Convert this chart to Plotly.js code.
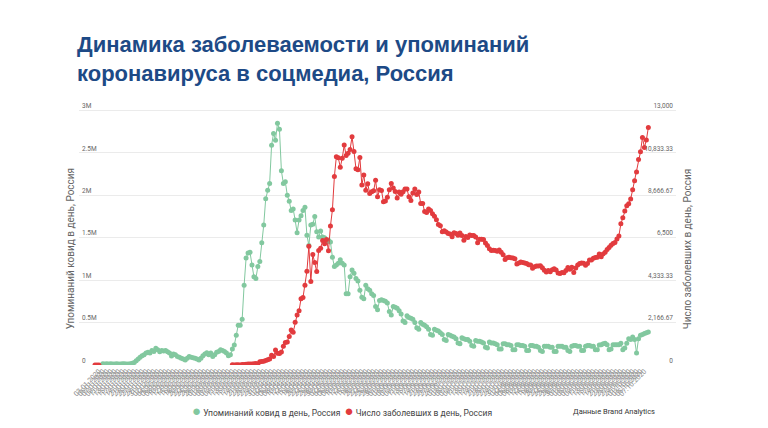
<!DOCTYPE html>
<html><head><meta charset="utf-8">
<script src="https://cdn.plot.ly/plotly-3.0.1.min.js"></script>
<style>html,body{margin:0;padding:0;background:#fff}#chart{width:768px;height:428px}</style>
</head><body><div id="chart"></div>
<script>
// Categories: daily dates 01.01.2020 – 09.10.2020
const startDate = Date.UTC(2020, 0, 1);
const dayCount = 283;
const dates = [];
for (let i = 0; i < dayCount; i++) {
  const d = new Date(startDate + i * 86400000);
  const dd = String(d.getUTCDate()).padStart(2, '0');
  const mm = String(d.getUTCMonth() + 1).padStart(2, '0');
  dates.push(dd + '.' + mm + '.' + d.getUTCFullYear());
}

// Mentions of covid per day, millions (left axis)
const mentionsJan = [null,null,null,null,0.015,0.012,0.014,0.013,0.015,0.012,0.011,0.014,0.013,0.012,0.014,0.015,0.013,0.012,0.014,0.02,0.03,0.05,0.07,0.09,0.11,0.12,0.14,0.15,0.14,0.17,0.16];
const mentionsFeb = [0.196,0.18,0.155,0.17,0.165,0.17,0.155,0.14,0.105,0.13,0.12,0.1,0.09,0.08,0.07,0.06,0.08,0.1,0.09,0.085,0.08,0.07,0.06,0.08,0.11,0.13,0.145,0.12,0.14];
const mentionsMar = [0.1,0.12,0.15,0.16,0.18,0.17,0.16,0.14,0.11,0.12,0.19,0.235,0.35,0.47,0.47,0.54,0.94,1.26,1.32,1.33,1.18,1.04,1.02,1.16,1.22,1.44,1.65,1.96,2.06,2.14,2.59];
const mentionsApr = [2.73,2.65,2.85,2.78,2.29,2.14,2.16,2.0,1.93,1.82,1.84,1.71,1.56,1.71,1.76,1.82,1.86,1.53,1.41,1.65,1.66,1.75,1.57,1.51,1.58,1.51,1.5,1.45,1.47,1.45];
const mentionsMay = [1.27,1.16,1.18,1.2,1.24,1.2,1.18,0.84,0.84,1.04,1.12,1.08,1.02,0.99,0.88,0.8,0.78,0.94,0.9,0.88,0.84,0.82,0.69,0.65,0.76,0.77,0.76,0.75,0.73,0.63,0.59];
const mentionsJun = [0.69,0.68,0.67,0.64,0.6,0.52,0.5,0.58,0.56,0.55,0.54,0.5,0.44,0.42,0.5,0.48,0.47,0.45,0.42,0.36,0.35,0.42,0.41,0.4,0.38,0.36,0.3,0.29,0.36,0.35];
const mentionsJul = [0.34,0.33,0.31,0.26,0.25,0.32,0.31,0.3,0.3,0.28,0.23,0.22,0.29,0.28,0.28,0.27,0.26,0.21,0.2,0.27,0.26,0.26,0.25,0.24,0.19,0.19,0.25,0.25,0.24,0.24,0.23];
const mentionsAug = [0.18,0.18,0.24,0.24,0.23,0.23,0.22,0.17,0.17,0.23,0.23,0.22,0.22,0.21,0.17,0.16,0.22,0.22,0.22,0.21,0.21,0.16,0.16,0.22,0.22,0.22,0.21,0.21,0.17,0.16,0.22];
const mentionsSep = [0.23,0.23,0.22,0.22,0.17,0.17,0.22,0.23,0.23,0.22,0.22,0.18,0.18,0.235,0.24,0.25,0.255,0.24,0.18,0.19,0.24,0.24,0.24,0.24,0.255,0.18,0.2,0.255,0.31,0.3];
const mentionsOct = [0.33,0.3,0.14,0.31,0.35,0.36,0.37,0.38,0.39];

// New cases per day (right axis)
const casesJan = [0,0,0,null,null,null,null,null,null,null,null,null,null,null,null,null,null,null,null,null,null,null,null,null,null,null,null,null,null,null,null];
const casesFeb = [null,null,null,null,null,null,null,null,null,null,null,null,null,null,null,null,null,null,null,null,null,null,null,null,null,null,null,null,null];
const casesMar = [null,null,null,null,null,null,null,null,null,null,8,6,17,14,4,30,21,33,52,54,53,61,71,57,163,182,196,228,270,302,500];
const casesApr = [440,771,601,582,658,954,1154,1175,1459,1786,1667,2186,2558,2774,3388,3448,4070,4785,6060,4268,5642,5236,4774,5849,5966,6361,6198,6411,5841,7099];
const casesMay = [7933,9623,10633,10581,10102,10559,11231,10699,10817,11012,11656,10899,10028,9974,10598,9200,9709,8926,9263,8764,8849,8894,9434,8599,8946,8915,8338,8371,8572,8952,9268];
const casesJun = [9035,8863,8536,8831,8726,8855,8984,8985,8595,8404,8779,8987,8706,8835,8246,8248,7843,7790,7972,7889,7728,7600,7425,7176,7113,6800,6852,6791,6719,6693];
const casesJul = [6556,6760,6718,6632,6736,6611,6368,6562,6509,6635,6611,6615,6537,6248,6422,6428,6406,6234,6109,5940,5842,5862,5848,5811,5871,5765,5635,5395,5475,5509,5482];
const casesAug = [5462,5427,5159,5204,5267,5241,5212,5189,5118,5102,4945,5012,5057,5061,5065,4969,4839,4748,4828,4767,4870,4921,4852,4696,4676,4729,4711,4829,4980,4897,4993];
const casesSep = [4729,4952,5110,5185,5205,5195,5099,5185,5363,5363,5449,5488,5509,5670,5529,5670,5762,5905,6000,6120,6200,6260,6431,6595,7212,7523,7867,8135,8232,8481];
const casesOct = [8945,9412,9859,10499,10888,11615,11115,11493,12126];

const leftTicks = [0, 0.5, 1, 1.5, 2, 2.5, 3];
const leftTickText = ['0', '0.5M', '1M', '1.5M', '2M', '2.5M', '3M'];
const rightTicks = [0, 2166.67, 4333.33, 6500, 8666.67, 10833.33, 13000];
const rightTickText = ['0', '2,166.67', '4,333.33', '6,500', '8,666.67', '10,833.33', '13,000'];

const seriesNames = ['Упоминаний ковид в день, Россия', 'Число заболевших в день, Россия'];
const mentions = [].concat(mentionsJan, mentionsFeb, mentionsMar, mentionsApr, mentionsMay, mentionsJun, mentionsJul, mentionsAug, mentionsSep, mentionsOct);
const cases = [].concat(casesJan, casesFeb, casesMar, casesApr, casesMay, casesJun, casesJul, casesAug, casesSep, casesOct);

const greenColor = '#82c89f';
const redColor = '#e23b3e';

const tickVals = dates.filter((d, i) => i >= 2 && i % 2 === 0);

const traces = [
  { type: 'scatter', mode: 'lines+markers', name: seriesNames[0], x: dates, y: mentions, yaxis: 'y',
    line: { color: greenColor, width: 1 }, marker: { color: greenColor, size: 5 }, connectgaps: false },
  { type: 'scatter', mode: 'lines+markers', name: seriesNames[1], x: dates, y: cases, yaxis: 'y2',
    line: { color: redColor, width: 1 }, marker: { color: redColor, size: 5 }, connectgaps: false }
];

// plot area: 0 at y=365, 3M at y=110 (85 px per 1M); top padded so the "3M" label fits inside
const W = 768, H = 428, L = 79, R = 92, T = 101.5, B = 63;
const pw = W - L - R, ph = H - T - B;
const px = (x) => (x - L) / pw;
const py = (y) => (H - B - y) / ph;

const layout = {
  width: W, height: H,
  margin: { l: L, r: R, t: T, b: B, pad: 0 },
  paper_bgcolor: '#ffffff', plot_bgcolor: '#ffffff',
  showlegend: false,
  font: { family: 'Roboto, "Open Sans", sans-serif', color: '#555' },
  title: {
    text: 'Динамика заболеваемости и упоминаний<br>коронавируса в соцмедиа, Россия',
    x: 77 / W, xref: 'container', xanchor: 'left',
    y: 1 - 52 / H, yref: 'container', yanchor: 'top',
    font: { family: '"Liberation Sans", Arial, sans-serif', size: 22, color: '#1d4a86', weight: 700 }
  },
  xaxis: {
    type: 'category', range: [-8.15, 296.1], tickmode: 'array', tickvals: tickVals, ticktext: tickVals,
    tickangle: -45, tickfont: { size: 7, color: '#8a8a8a' }, showgrid: false, zeroline: false, showline: false,
    ticks: '', fixedrange: true
  },
  yaxis: {
    range: [0, 3.1], tickmode: 'array', tickvals: leftTicks, ticktext: leftTickText,
    ticklabelposition: 'inside top', tickfont: { size: 6.5, color: '#666' },
    gridcolor: '#ebebeb', gridwidth: 1, zeroline: false, showline: false, ticks: '', fixedrange: true
  },
  yaxis2: {
    overlaying: 'y', side: 'right', range: [0, 13433.33], tickmode: 'array', tickvals: rightTicks, ticktext: rightTickText,
    ticklabelposition: 'inside top', tickfont: { size: 6.5, color: '#666' },
    showgrid: false, zeroline: false, showline: false, ticks: '', fixedrange: true
  },
  annotations: [
    { text: seriesNames[0], xref: 'paper', yref: 'paper', x: px(70), y: py(249), textangle: -90,
      xanchor: 'center', yanchor: 'middle', showarrow: false, font: { size: 10, color: '#666' } },
    { text: seriesNames[1], xref: 'paper', yref: 'paper', x: px(687), y: py(249), textangle: -90,
      xanchor: 'center', yanchor: 'middle', showarrow: false, font: { size: 10, color: '#666' } },
    { text: '<span style="color:' + greenColor + ';font-size:15px">●</span> ' + seriesNames[0] + '  <span style="color:' + redColor + ';font-size:15px">●</span> ' + seriesNames[1],
      xref: 'paper', yref: 'paper', x: px(342), y: py(411), xanchor: 'center', yanchor: 'middle',
      showarrow: false, font: { size: 8.5, color: '#444' } },
    { text: 'Данные Brand Analytics', xref: 'paper', yref: 'paper', x: px(657), y: py(412),
      xanchor: 'right', yanchor: 'middle', showarrow: false, font: { size: 7.5, color: '#333' } }
  ]
};

Plotly.newPlot('chart', traces, layout, { displayModeBar: false, staticPlot: true });
</script></body></html>
